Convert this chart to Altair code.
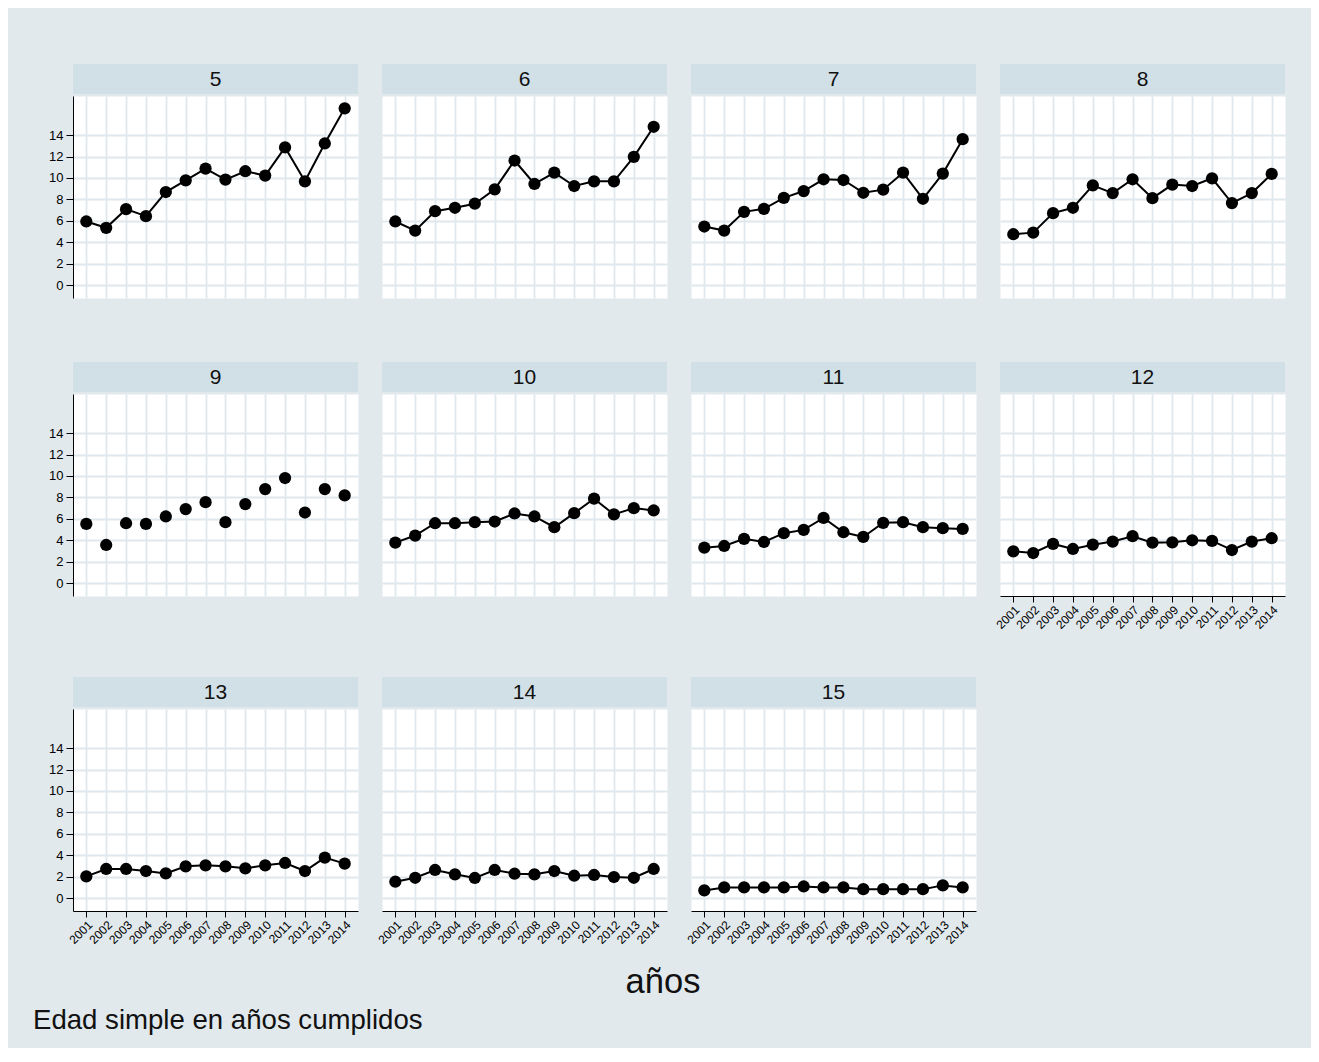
import altair as alt
import pandas as pd

# ---------------- data ----------------
years = list(range(2001, 2015))
ages = [5, 6, 7, 8, 9, 10, 11, 12, 13, 14, 15]

edad_5 = [5.94, 5.35, 7.09, 6.44, 8.69, 9.78, 10.88, 9.85, 10.63, 10.22, 12.85, 9.69, 13.22, 16.5]
edad_6 = [5.94, 5.09, 6.90, 7.22, 7.60, 8.94, 11.63, 9.44, 10.50, 9.25, 9.69, 9.69, 11.97, 14.78]
edad_7 = [5.47, 5.09, 6.84, 7.12, 8.15, 8.78, 9.88, 9.81, 8.62, 8.91, 10.50, 8.06, 10.41, 13.62]
edad_8 = [4.75, 4.90, 6.72, 7.22, 9.31, 8.59, 9.88, 8.12, 9.38, 9.25, 9.97, 7.66, 8.59, 10.38]
edad_9 = [5.53, 3.56, 5.59, 5.53, 6.22, 6.91, 7.56, 5.69, 7.38, 8.78, 9.81, 6.59, 8.78, 8.19]
edad_10 = [3.78, 4.44, 5.59, 5.59, 5.69, 5.75, 6.50, 6.22, 5.22, 6.53, 7.88, 6.41, 7.00, 6.78]
edad_11 = [3.31, 3.47, 4.13, 3.84, 4.66, 4.97, 6.09, 4.75, 4.31, 5.63, 5.69, 5.22, 5.13, 5.06]
edad_12 = [2.97, 2.81, 3.66, 3.19, 3.59, 3.88, 4.38, 3.78, 3.81, 4.00, 3.94, 3.09, 3.88, 4.19]
edad_13 = [2.03, 2.72, 2.72, 2.53, 2.31, 2.97, 3.06, 2.97, 2.78, 3.06, 3.28, 2.53, 3.78, 3.22]
edad_14 = [1.53, 1.90, 2.63, 2.22, 1.88, 2.63, 2.28, 2.22, 2.53, 2.09, 2.16, 1.97, 1.90, 2.72]
edad_15 = [0.72, 1.00, 1.00, 1.00, 1.00, 1.09, 1.00, 1.00, 0.84, 0.84, 0.84, 0.84, 1.19, 1.00]

y_ticks = [0, 2, 4, 6, 8, 10, 12, 14]
x_title = "años"
note_text = "Edad simple en años cumplidos"

series = {5: edad_5, 6: edad_6, 7: edad_7, 8: edad_8, 9: edad_9, 10: edad_10,
          11: edad_11, 12: edad_12, 13: edad_13, 14: edad_14, 15: edad_15}

rows = []
for a in ages:
    for yr, v in zip(years, series[a]):
        rows.append({"edad": a, "anio": yr, "valor": v})
df = pd.DataFrame(rows)

# ---------------- style ----------------
FONT = "Liberation Sans"
BG = "#e1e9ed"
STRIP = "#d1e0e7"
GRID = "#dfe8ec"
W, H = 285, 202
GAP = 24
XDOM = [2000.33, 2014.67]
YDOM = [-1.2, 17.65]


def header(label, h):
    d = pd.DataFrame({"label": [str(label)]})
    base = alt.Chart(d)
    band = base.mark_rect(color=STRIP).encode(
        x=alt.value(0), x2=alt.value(W), y=alt.value(h - 30), y2=alt.value(h))
    txt = base.mark_text(font=FONT, fontSize=21, color="#111111", align="center",
                         baseline="middle").encode(
        text="label:N", x=alt.value(W / 2), y=alt.value(h - 14.5))
    return alt.layer(band, txt).properties(width=W, height=h)


def x_axis(show):
    if show:
        return alt.Axis(values=years, format="d", labelAngle=315, labelFont=FONT,
                        labelFontSize=12, labelColor="black", labelPadding=2,
                        labelOverlap=False, labelFlush=False,
                        tickSize=6, tickColor="black", tickWidth=1,
                        domainColor="black", domainWidth=1,
                        grid=True, gridColor=GRID, gridWidth=1.8, title=None)
    return alt.Axis(values=years, labels=False, ticks=False, domain=False,
                    grid=True, gridColor=GRID, gridWidth=1.8, title=None)


def y_axis(show):
    if show:
        return alt.Axis(values=y_ticks, labelFont=FONT, labelFontSize=13,
                        labelColor="black", labelPadding=3, labelOverlap=False,
                        tickSize=7, tickColor="black", tickWidth=1,
                        domainColor="black", domainWidth=1,
                        grid=True, gridColor=GRID, gridWidth=1.8, title=None)
    return alt.Axis(values=y_ticks, labels=False, ticks=False, domain=False,
                    grid=True, gridColor=GRID, gridWidth=1.8, title=None)


def panel(age, col, show_x):
    d = df[df.edad == age]
    base = alt.Chart(d).encode(
        x=alt.X("anio:Q", scale=alt.Scale(domain=XDOM, nice=False, zero=False),
                axis=x_axis(show_x)),
        y=alt.Y("valor:Q", scale=alt.Scale(domain=YDOM, nice=False, zero=False),
                axis=y_axis(col == 0)),
    )
    layers = []
    if age != 9:
        layers.append(base.mark_line(color="black", strokeWidth=2))
    layers.append(base.mark_point(filled=True, color="black", opacity=1, size=150))
    return alt.layer(*layers).properties(
        width=W, height=H, view=alt.ViewBackground(fill="white", stroke="transparent"))


def hrow(items):
    return alt.hconcat(*items, spacing=GAP, bounds="flush")


row1 = [5, 6, 7, 8]
row2 = [9, 10, 11, 12]
row3 = [13, 14, 15]

h1 = hrow([header(a, 85) for a in row1])
p1 = hrow([panel(a, i, False) for i, a in enumerate(row1)])
h2 = hrow([header(a, 92) for a in row2])
p2 = hrow([panel(a, i, a == 12) for i, a in enumerate(row2)])
h3 = hrow([header(a, 74) for a in row3])
p3 = hrow([panel(a, i, True) for i, a in enumerate(row3)])

TW = 4 * W + 3 * GAP
TH = 99
tdf = pd.DataFrame({"titulo": [x_title], "nota": [note_text]})
tbase = alt.Chart(tdf)
t_title = tbase.mark_text(font=FONT, fontSize=34.5, color="#111111", align="center",
                          baseline="alphabetic").encode(
    text="titulo:N", x=alt.value(590), y=alt.value(45))
t_note = tbase.mark_text(font=FONT, fontSize=27.6, color="#111111", align="left",
                         baseline="alphabetic").encode(
    text="nota:N", x=alt.value(-40), y=alt.value(81))
bottom = alt.layer(t_title, t_note).properties(width=TW, height=TH)

chart = alt.vconcat(h1, p1, h2, p2, h3, p3, bottom, spacing=0).properties(
    background=BG, padding={"left": 24, "top": 0, "right": 25, "bottom": 0}
).configure_view(stroke="transparent")

chart.save("out.html", embed_options={"renderer": "svg", "actions": False})
